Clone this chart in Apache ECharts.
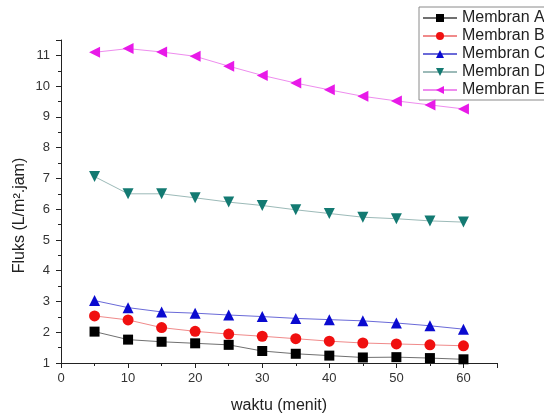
<!DOCTYPE html>
<html>
<head>
<meta charset="utf-8">
<script src="https://cdn.jsdelivr.net/npm/echarts@6/dist/echarts.min.js"></script>
<style>html,body{margin:0;padding:0;background:#fff;}#c{width:544px;height:419px;}</style>
</head>
<body>
<div id="c"></div>
<script>
const waktu = [5, 10, 15, 20, 25, 30, 35, 40, 45, 50, 55, 60];
const membranA = [2.02, 1.76, 1.69, 1.64, 1.59, 1.39, 1.30, 1.24, 1.18, 1.19, 1.16, 1.12];
const membranB = [2.53, 2.40, 2.15, 2.03, 1.94, 1.87, 1.79, 1.71, 1.65, 1.62, 1.59, 1.56];
const membranC = [3.03, 2.80, 2.66, 2.62, 2.56, 2.51, 2.45, 2.41, 2.37, 2.30, 2.21, 2.10];
const membranD = [7.06, 6.50, 6.50, 6.37, 6.23, 6.12, 5.98, 5.86, 5.74, 5.69, 5.62, 5.58];
const membranE = [11.10, 11.22, 11.11, 10.97, 10.65, 10.35, 10.10, 9.88, 9.67, 9.52, 9.39, 9.26];
const seriesNames = ['Membran A', 'Membran B', 'Membran C', 'Membran D', 'Membran E'];
const xTitle = 'waktu (menit)';
const yTitle = 'Fluks (L/m\u00B2.jam)';

const values = [membranA, membranB, membranC, membranD, membranE];
const colors = ['#000000', '#f01010', '#0a0ad0', '#137a72', '#e81ae8'];
const lineColors = ['#707070', '#f08a8a', '#6a6ad8', '#9cbab8', '#ee8cee'];
const symbols = ['rect', 'circle', 'triangle', 'triangle', 'triangle'];
const rotates = [0, 0, 0, 180, 90];
const sizes = [10, 11, 11, 11, 11];

const font = 'Liberation Sans, Arial, sans-serif';
const chart = echarts.init(document.getElementById('c'), null, {renderer: 'canvas'});
chart.setOption({
  backgroundColor: '#ffffff',
  animation: false,
  textStyle: {fontFamily: font},
  grid: {left: 61, right: 47, top: 40, bottom: 56, containLabel: false},
  legend: {
    orient: 'vertical',
    left: 419, top: 7,
    padding: [3, 30, 2, 3],
    itemGap: 2,
    itemWidth: 34,
    itemHeight: 10,
    borderColor: '#8a8a8a',
    borderWidth: 1,
    backgroundColor: '#ffffff',
    textStyle: {fontSize: 16, color: '#222', fontFamily: font, lineHeight: 16},
    data: seriesNames
  },
  xAxis: {
    type: 'value', min: 0, max: 65, interval: 10,
    name: xTitle, nameLocation: 'middle', nameGap: 35, nameMoveOverlap: false,
    nameTextStyle: {fontSize: 16, color: '#222', fontFamily: font},
    axisLine: {show: true, onZero: false, lineStyle: {color: '#222', width: 1}},
    axisTick: {show: true, inside: false, length: 5, lineStyle: {color: '#222'}},
    minorTick: {show: true, splitNumber: 2, length: 3, lineStyle: {color: '#222'}},
    splitLine: {show: false},
    axisLabel: {fontSize: 13, color: '#333', margin: 9, showMaxLabel: false, fontFamily: font}
  },
  yAxis: {
    type: 'value', min: 1, max: 11.5, interval: 1,
    name: yTitle, nameLocation: 'middle', nameGap: 33, nameRotate: 90, nameMoveOverlap: false,
    nameTextStyle: {fontSize: 16, color: '#222', fontFamily: font, padding: [0, 28, 0, 0]},
    axisLine: {show: true, onZero: false, lineStyle: {color: '#222', width: 1}},
    axisTick: {show: true, inside: false, length: 5, lineStyle: {color: '#222'}},
    minorTick: {show: true, splitNumber: 2, length: 3, lineStyle: {color: '#222'}},
    splitLine: {show: false},
    axisLabel: {fontSize: 13, color: '#333', margin: 11, showMaxLabel: false, fontFamily: font}
  },
  series: seriesNames.map((n, i) => ({
    name: n,
    type: 'line',
    data: waktu.map((x, j) => [x, values[i][j]]),
    symbol: symbols[i],
    symbolRotate: rotates[i],
    symbolSize: sizes[i],
    showAllSymbol: true,
    itemStyle: {color: colors[i]},
    lineStyle: {color: lineColors[i], width: 1},
    z: 10 - i
  }))
});
</script>
</body>
</html>
